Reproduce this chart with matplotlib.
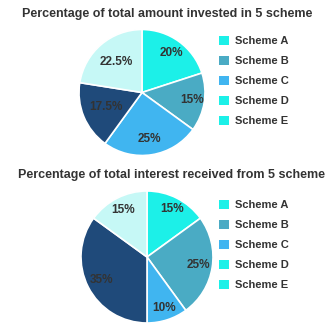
import numpy as np
import matplotlib.pyplot as plt

plt.rcParams["font.family"] = ["Liberation Sans", "DejaVu Sans"]

schemes = ["Scheme A", "Scheme B", "Scheme C", "Scheme D", "Scheme E"]
invested = [20, 15, 25, 17.5, 22.5]
interest = [15, 25, 10, 35, 15]
invested_labels = ["20%", "15%", "25%", "17.5%", "22.5%"]
interest_labels = ["15%", "25%", "10%", "35%", "15%"]

slice_colors = ["#1cf0e8", "#4aabc4", "#40b5f0", "#1f4a7a", "#c6f8f6"]
legend_colors = ["#1cf0e8", "#4aabc4", "#40b5f0", "#1cf0e8", "#1cf0e8"]

W, H = 335, 332
fig = plt.figure(figsize=(W / 100, H / 100), dpi=100)


def draw(cx, cy, r, values, labels, title, title_x, title_y, legend_top, pct):
    ax = fig.add_axes([(cx - r) / W, (H - cy - r) / H, 2 * r / W, 2 * r / H])
    wedges, _ = ax.pie(values, colors=slice_colors, startangle=90, counterclock=False,
                       wedgeprops=dict(edgecolor="white", linewidth=1.2))
    for w, lab, d in zip(wedges, labels, pct):
        ang = np.deg2rad((w.theta1 + w.theta2) / 2)
        ax.text(d * np.cos(ang), d * np.sin(ang), lab, ha="center", va="center",
                fontsize=8.5, fontweight="bold", color="#333333")
    ax.set_xlim(-1, 1)
    ax.set_ylim(-1, 1)
    ax.set_aspect("equal")
    fig.text(title_x / W, 1 - title_y / H, title, ha="center", va="center",
             fontsize=9, fontweight="bold", color="#333333")
    handles = [plt.Rectangle((0, 0), 1, 1, facecolor=c) for c in legend_colors]
    leg = fig.legend(handles, schemes, loc="upper left",
                     bbox_to_anchor=(219 / W, 1 - legend_top / H), frameon=False,
                     fontsize=8, handlelength=0.9, handleheight=0.9, handletextpad=0.55,
                     labelspacing=0.85, borderaxespad=0, borderpad=0)
    for t in leg.get_texts():
        t.set_fontweight("bold")
        t.set_color("#333333")


draw(142, 92.5, 63, invested, invested_labels,
     "Percentage of total amount invested in 5 scheme", 167, 14, 36,
     [0.78, 0.8, 0.74, 0.62, 0.64])
draw(147, 257, 66, interest, interest_labels,
     "Percentage of total interest received from 5 scheme", 172, 175, 200,
     [0.82, 0.79, 0.82, 0.78, 0.8])

fig.savefig("out.png", dpi=100)
